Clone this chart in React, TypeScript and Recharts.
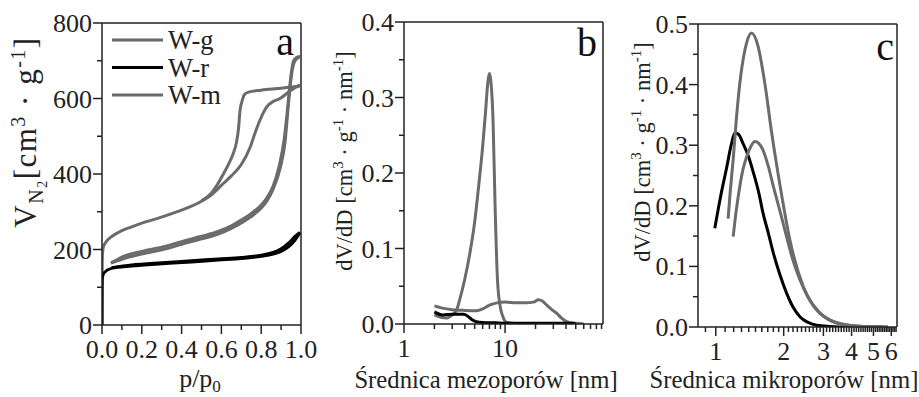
import { LineChart, Line, XAxis, YAxis, ReferenceLine, Label, Legend } from 'recharts';

// ---------- panel a: N2 isotherms (p/p0 vs V) ----------
const wgAdsP = [0, 0.0005, 0.002, 0.006, 0.015, 0.048, 0.1, 0.149, 0.2, 0.283, 0.35, 0.45, 0.5, 0.55, 0.6, 0.65, 0.7, 0.744, 0.77, 0.794, 0.828, 0.86, 0.895, 0.945, 0.995];
const wgAdsV = [0, 120, 185, 205, 216, 234, 250, 260, 270, 283, 295, 315, 328, 345, 370, 395, 425, 470, 510, 543, 578, 592, 600, 620, 636];
const wgDesP = [0.5, 0.55, 0.58, 0.61, 0.635, 0.66, 0.675, 0.686, 0.694, 0.705, 0.715, 0.736, 0.8, 0.9, 0.995];
const wgDesV = [329, 350, 372, 400, 425, 455, 482, 520, 570, 595, 610, 617, 622, 627, 633];

const wmAdsP = [0.045, 0.1, 0.2, 0.316, 0.4, 0.5, 0.584, 0.65, 0.7, 0.744, 0.8, 0.828, 0.86, 0.895, 0.92, 0.936, 0.953, 0.97, 0.995];
const wmAdsV = [164, 174, 188, 201, 214, 228, 241, 256, 270, 285, 310, 328, 360, 415, 485, 580, 665, 700, 711];
const wmDesP = [0.045, 0.1, 0.2, 0.316, 0.4, 0.5, 0.584, 0.65, 0.7, 0.744, 0.8, 0.828, 0.86, 0.89, 0.915, 0.93, 0.945, 0.96, 0.975, 0.995];
const wmDesV = [164, 180, 195, 208, 221, 235, 248, 263, 278, 293, 318, 336, 368, 420, 490, 560, 640, 695, 708, 711];

const wrAdsP = [0, 0.0005, 0.002, 0.01, 0.048, 0.149, 0.3, 0.45, 0.584, 0.7, 0.8, 0.86, 0.9, 0.94, 0.97, 0.995];
const wrAdsV = [0, 100, 125, 138, 150, 156, 162, 167, 172, 176, 182, 188, 195, 208, 225, 245];
const wrDesP = [0.048, 0.149, 0.3, 0.45, 0.584, 0.7, 0.8, 0.86, 0.9, 0.94, 0.97, 0.995];
const wrDesV = [152, 159, 165, 170, 175, 179, 185, 192, 202, 218, 235, 245];

// ---------- panel b: mesopore PSD ----------
const bWgD = [2, 2.3, 2.65, 3.0, 3.3, 3.6, 4.0, 4.5, 5.0, 5.5, 6.0, 6.4, 6.75, 7.0, 7.25, 7.6, 7.95, 8.4, 8.9, 9.5, 10.4, 12];
const bWgV = [0.012, 0.009, 0.008, 0.012, 0.018, 0.035, 0.06, 0.095, 0.135, 0.185, 0.235, 0.28, 0.32, 0.332, 0.32, 0.27, 0.16, 0.06, 0.025, 0.01, 0.002, 0.001];
const bWmD = [2, 2.4, 3.0, 3.3, 4.0, 5.24, 6.0, 7.0, 8.3, 10, 13.1, 16, 19.1, 21.4, 23.5, 25.8, 29, 32.5, 36, 40.8, 50, 60];
const bWmV = [0.024, 0.021, 0.019, 0.0185, 0.018, 0.0177, 0.02, 0.025, 0.028, 0.029, 0.028, 0.028, 0.029, 0.032, 0.03, 0.025, 0.019, 0.014, 0.008, 0.003, 0.001, 0.0];
const bWrD = [2, 2.4, 3.1, 3.9, 4.3, 4.67, 5.2, 6, 8, 10, 15, 20, 30, 40, 50];
const bWrV = [0.016, 0.012, 0.013, 0.013, 0.01, 0.006, 0.003, 0.002, 0.0015, 0.001, 0.001, 0.001, 0.001, 0.001, 0.0005];

// ---------- panel c: micropore PSD ----------
const cWrD = [0.99, 1.05, 1.116, 1.17, 1.215, 1.26, 1.32, 1.4, 1.47, 1.55, 1.62, 1.71, 1.8, 1.93, 2.06, 2.2, 2.36, 2.55, 2.8, 3.2, 3.8, 4.5, 5.5];
const cWrV = [0.163, 0.215, 0.262, 0.3, 0.32, 0.318, 0.303, 0.28, 0.254, 0.222, 0.188, 0.155, 0.122, 0.085, 0.056, 0.033, 0.017, 0.008, 0.003, 0.001, 0, 0, 0];
const cWgD = [1.134, 1.16, 1.194, 1.235, 1.278, 1.32, 1.37, 1.44, 1.54, 1.65, 1.77, 1.93, 2.13, 2.44, 2.9, 3.55, 4.5, 5.8];
const cWgV = [0.179, 0.225, 0.276, 0.345, 0.402, 0.44, 0.469, 0.485, 0.463, 0.402, 0.32, 0.232, 0.144, 0.067, 0.023, 0.005, 0.001, 0];
const cWmD = [1.194, 1.235, 1.278, 1.32, 1.37, 1.43, 1.49, 1.55, 1.62, 1.71, 1.8, 1.93, 2.06, 2.2, 2.36, 2.58, 2.8, 3.2, 3.55, 4.5, 5.8];
const cWmV = [0.149, 0.195, 0.232, 0.26, 0.281, 0.298, 0.306, 0.303, 0.292, 0.265, 0.232, 0.19, 0.149, 0.11, 0.078, 0.048, 0.028, 0.012, 0.006, 0.001, 0];

// ---------- ticks ----------
const aXTicks = [0, 0.1, 0.2, 0.3, 0.4, 0.5, 0.6, 0.7, 0.8, 0.9, 1.0];
const aXLabels = ['0.0', '', '0.2', '', '0.4', '', '0.6', '', '0.8', '', '1.0'];
const aYTicks = [0, 100, 200, 300, 400, 500, 600, 700, 800];
const aYLabels = ['0', '', '200', '', '400', '', '600', '', '800'];
const bXTicks = [1, 2, 3, 4, 5, 6, 7, 8, 9, 10, 20, 30, 40, 50, 60, 70, 80, 90];
const bXLabels = ['1', '', '', '', '', '', '', '', '', '10', '', '', '', '', '', '', '', ''];
const bYTicks = [0, 0.05, 0.1, 0.15, 0.2, 0.25, 0.3, 0.35, 0.4];
const bYLabels = ['0.0', '', '0.1', '', '0.2', '', '0.3', '', '0.4'];
const cXTicks = [0.9, 1, 1.1, 1.2, 1.3, 1.4, 1.5, 1.6, 1.7, 1.8, 1.9, 2, 2.1, 2.2, 2.3, 2.4, 2.5, 2.6, 2.7, 2.8, 2.9, 3, 3.1, 3.2, 3.3, 3.4, 3.5, 3.6, 3.7, 3.8, 3.9, 4, 4.1, 4.2, 4.3, 4.4, 4.5, 4.6, 4.7, 4.8, 4.9, 5, 5.1, 5.2, 5.3, 5.4, 5.5, 5.6, 5.7, 5.8, 5.9, 6, 6.1, 6.2, 6.3];
const cXLabelMap: Record<string, string> = { '1': '1', '2': '2', '3': '3', '4': '4', '5': '5', '6': '6' };
const cYTicks = [0, 0.05, 0.1, 0.15, 0.2, 0.25, 0.3, 0.35, 0.4, 0.45, 0.5];
const cYLabels = ['0.0', '', '0.1', '', '0.2', '', '0.3', '', '0.4', '', '0.5'];

const legendNames = ['W-g', 'W-r', 'W-m'];

const GREY = '#6b6b6b';
const BLACK = '#000000';
const AXIS = '#222222';
const FONT = '"Liberation Serif", serif';
const FS = 26;
const TFS = 24.7;

const zip = (xs: number[], ys: number[]) => xs.map((x, i) => ({ x, y: ys[i] }));

function makeXTick(ticks: number[], labelOf: (v: number, i: number) => string) {
  return (props: any) => {
    const { x, y, payload } = props;
    const idx = ticks.indexOf(payload.value);
    const label = labelOf(payload.value, idx);
    const len = label ? 9 : 5;
    return (
      <g>
        <line x1={x} y1={y} x2={x} y2={y + len} stroke={AXIS} strokeWidth={1.5} />
        {label ? (
          <text x={x} y={y + 33} textAnchor="middle" fontFamily={FONT} fontSize={FS} fill={AXIS}>
            {label}
          </text>
        ) : null}
      </g>
    );
  };
}

function makeYTick(ticks: number[], labels: string[]) {
  return (props: any) => {
    const { x, y, payload } = props;
    const idx = ticks.indexOf(payload.value);
    const label = labels[idx] || '';
    const len = label ? 9 : 5;
    return (
      <g>
        <line x1={x} y1={y} x2={x - len} y2={y} stroke={AXIS} strokeWidth={1.5} />
        {label ? (
          <text x={x - 10} y={y + 9} textAnchor="end" fontFamily={FONT} fontSize={FS} fill={AXIS}>
            {label}
          </text>
        ) : null}
      </g>
    );
  };
}

const panelLetter = (letter: string, dx: number, dy: number) => (props: any) => {
  const vb = props.viewBox;
  return (
    <text x={vb.x + vb.width - dx} y={vb.y + dy} textAnchor="end" fontFamily={FONT} fontSize={40} fill="#111">
      {letter}
    </text>
  );
};

const xTitle = (content: any, cx: number, cy: number) => () => (
  <text x={cx} y={cy} textAnchor="middle" fontFamily={FONT} fontSize={TFS} fill={AXIS}>
    {content}
  </text>
);

const rotTitle = (content: any, bx: number, cy: number, fs: number, ls = 0) => () => (
  <text x={bx} y={cy} transform={`rotate(-90, ${bx}, ${cy})`} textAnchor="middle" fontFamily={FONT} fontSize={fs} letterSpacing={ls} fill={AXIS}>
    {content}
  </text>
);

const unitsPSD = (
  <>
    <tspan>dV/dD [cm</tspan>
    <tspan dy={-9} fontSize={15}>3</tspan>
    <tspan dy={9}> · g</tspan>
    <tspan dy={-9} fontSize={15}>-1</tspan>
    <tspan dy={9}> · nm</tspan>
    <tspan dy={-9} fontSize={15}>-1</tspan>
    <tspan dy={9}>]</tspan>
  </>
);

const unitsIso = (
  <>
    <tspan>V</tspan>
    <tspan dy={7} fontSize={20}>N</tspan>
    <tspan dy={4} fontSize={14}>2</tspan>
    <tspan dy={-11}>[cm</tspan>
    <tspan dy={-11} fontSize={20}>3</tspan>
    <tspan dy={11}> · g</tspan>
    <tspan dy={-11} fontSize={20}>-1</tspan>
    <tspan dy={11}>]</tspan>
  </>
);

const lineProps = { type: 'monotone' as const, dataKey: 'y', dot: false, strokeWidth: 3, isAnimationActive: false, activeDot: false };

function LegendBox() {
  const colors = [GREY, BLACK, GREY];
  return (
    <svg width={150} height={90} style={{ overflow: 'visible' }}>
      {legendNames.map((n, i) => (
        <g key={n}>
          <line x1={4} x2={55} y1={12 + i * 27.5} y2={12 + i * 27.5} stroke={colors[i]} strokeWidth={3} />
          <text x={60} y={21 + i * 27.5} fontFamily={FONT} fontSize={26.5} fill={AXIS}>
            {n}
          </text>
        </g>
      ))}
    </svg>
  );
}

export default function App() {
  return (
    <div style={{ position: 'absolute', left: 0, top: 0, width: 919, height: 397, background: '#fff' }}>
      {/* panel a */}
      <div style={{ position: 'absolute', left: 0, top: 0 }}>
        <LineChart width={320} height={397} margin={{ top: 23, right: 19, left: 0, bottom: 32 }}>
          <XAxis
            dataKey="x"
            type="number"
            domain={[0, 1]}
            ticks={aXTicks}
            interval={0}
            tickSize={0}
            tickMargin={0}
            height={40}
            stroke={AXIS}
            strokeWidth={1.5}
            tick={makeXTick(aXTicks, (_v, i) => aXLabels[i] || '')}
            allowDataOverflow
          >
            <Label content={xTitle(<><tspan fontSize={26}>p/p</tspan><tspan dy={5} fontSize={17}>0</tspan></>, 200, 387)} />
          </XAxis>
          <YAxis
            type="number"
            domain={[0, 800]}
            ticks={aYTicks}
            interval={0}
            tickSize={0}
            tickMargin={0}
            width={102}
            stroke={AXIS}
            strokeWidth={1.5}
            tick={makeYTick(aYTicks, aYLabels)}
            allowDataOverflow
          >
            <Label content={rotTitle(unitsIso, 36, 132, 31, 1.5)} />
          </YAxis>
          <ReferenceLine y={800} stroke={AXIS} strokeWidth={1.5}>
            <Label content={panelLetter('a', 7, 32)} />
          </ReferenceLine>
          <ReferenceLine x={1} stroke={AXIS} strokeWidth={1.5} />
          <Legend layout="vertical" align="center" verticalAlign="middle" wrapperStyle={{ left: 108, top: 28, width: 150 }} content={() => <LegendBox />} />
          <Line {...lineProps} data={zip(wgAdsP, wgAdsV)} stroke={GREY} name="W-g" />
          <Line {...lineProps} data={zip(wgDesP, wgDesV)} stroke={GREY} legendType="none" />
          <Line {...lineProps} data={zip(wmAdsP, wmAdsV)} stroke={GREY} name="W-m" />
          <Line {...lineProps} data={zip(wmDesP, wmDesV)} stroke={GREY} legendType="none" />
          <Line {...lineProps} data={zip(wrAdsP, wrAdsV)} stroke={BLACK} name="W-r" />
          <Line {...lineProps} data={zip(wrDesP, wrDesV)} stroke={BLACK} legendType="none" />
        </LineChart>
      </div>

      {/* panel b */}
      <div style={{ position: 'absolute', left: 320, top: 0 }}>
        <LineChart width={300} height={397} margin={{ top: 22, right: 17, left: 0, bottom: 33 }}>
          <XAxis
            dataKey="x"
            type="number"
            scale="log"
            domain={[1, 93]}
            ticks={bXTicks}
            interval={0}
            tickSize={0}
            tickMargin={0}
            height={40}
            stroke={AXIS}
            strokeWidth={1.5}
            tick={makeXTick(bXTicks, (_v, i) => bXLabels[i] || '')}
            allowDataOverflow
          >
            <Label content={xTitle('Średnica mezoporów [nm]', 486 - 320, 388)} />
          </XAxis>
          <YAxis
            type="number"
            domain={[0, 0.4]}
            ticks={bYTicks}
            interval={0}
            tickSize={0}
            tickMargin={0}
            width={84}
            stroke={AXIS}
            strokeWidth={1.5}
            tick={makeYTick(bYTicks, bYLabels)}
            allowDataOverflow
          >
            <Label content={rotTitle(unitsPSD, 352 - 320, 161, 22.5)} />
          </YAxis>
          <ReferenceLine y={0.4} stroke={AXIS} strokeWidth={1.5}>
            <Label content={panelLetter('b', 6, 34)} />
          </ReferenceLine>
          <ReferenceLine x={93} stroke={AXIS} strokeWidth={1.5} />
          <Line {...lineProps} data={zip(bWmD, bWmV)} stroke={GREY} name="W-m" />
          <Line {...lineProps} data={zip(bWgD, bWgV)} stroke={GREY} name="W-g" />
          <Line {...lineProps} data={zip(bWrD, bWrV)} stroke={BLACK} name="W-r" />
        </LineChart>
      </div>

      {/* panel c */}
      <div style={{ position: 'absolute', left: 620, top: 0 }}>
        <LineChart width={299} height={397} margin={{ top: 24, right: 22, left: 0, bottom: 30 }}>
          <XAxis
            dataKey="x"
            type="number"
            scale="log"
            domain={[0.834, 6.36]}
            ticks={cXTicks}
            interval={0}
            tickSize={0}
            tickMargin={0}
            height={40}
            stroke={AXIS}
            strokeWidth={1.5}
            tick={makeXTick(cXTicks, (v) => cXLabelMap[String(v)] || '')}
            allowDataOverflow
          >
            <Label content={xTitle('Średnica mikroporów [nm]', 784 - 620, 388)} />
          </XAxis>
          <YAxis
            type="number"
            domain={[0, 0.5]}
            ticks={cYTicks}
            interval={0}
            tickSize={0}
            tickMargin={0}
            width={78}
            stroke={AXIS}
            strokeWidth={1.5}
            tick={makeYTick(cYTicks, cYLabels)}
            allowDataOverflow
          >
            <Label content={rotTitle(unitsPSD, 650 - 620, 152, 22.5)} />
          </YAxis>
          <ReferenceLine y={0.5} stroke={AXIS} strokeWidth={1.5}>
            <Label content={panelLetter('c', 3, 36)} />
          </ReferenceLine>
          <ReferenceLine x={6.36} stroke={AXIS} strokeWidth={1.5} />
          <Line {...lineProps} data={zip(cWrD, cWrV)} stroke={BLACK} name="W-r" />
          <Line {...lineProps} data={zip(cWgD, cWgV)} stroke={GREY} name="W-g" />
          <Line {...lineProps} data={zip(cWmD, cWmV)} stroke={GREY} name="W-m" />
        </LineChart>
      </div>
    </div>
  );
}
